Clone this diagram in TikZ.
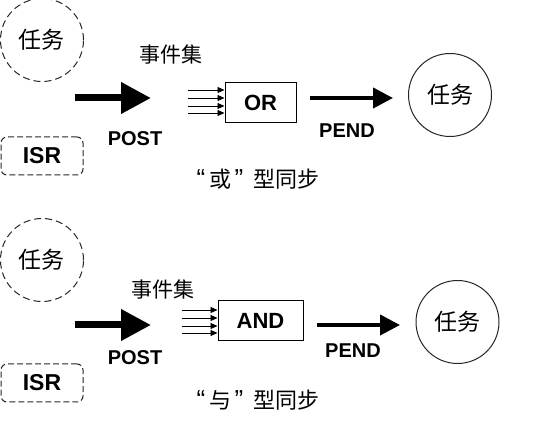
\documentclass[tikz,border=0pt]{standalone}
\usepackage{fontspec}
\setmainfont{Liberation Sans}
\newfontfamily\cjk{Noto Sans CJK SC}
\usetikzlibrary{arrows.meta,positioning}
\newcommand{\openq}{{\rmfamily\fontsize{26}{26}\selectfont“}}
\newcommand{\closeq}{{\rmfamily\fontsize{26}{26}\selectfont”}}
\tikzset{
  taskcirc/.style={circle,draw=black!85,line width=1pt,minimum size=83pt,
    inner sep=0pt,font=\cjk\fontsize{23}{26}\selectfont},
  dashcirc/.style={taskcirc,dash pattern=on 7pt off 4pt},
  isrbox/.style={rectangle,rounded corners=6pt,draw=black!85,line width=1pt,
    dash pattern=on 6pt off 3pt,minimum width=82pt,minimum height=38pt,
    font=\bfseries\fontsize{23}{26}\selectfont},
  flagbox/.style={rectangle,draw=black,line width=1pt,minimum height=40pt,
    font=\bfseries\fontsize{22}{25}\selectfont},
  lbl/.style={font=\bfseries\fontsize{20}{23}\selectfont},
  cjklbl/.style={font=\cjk\fontsize{21}{24}\selectfont},
  caplbl/.style={font=\cjk\fontsize{22}{26}\selectfont},
  postarrow/.style={-{Triangle[length=30pt,width=30pt]},line width=7pt},
  pendarrow/.style={-{Triangle[length=20pt,width=20pt]},line width=4pt},
  evarrow/.style={-{Triangle[length=7pt,width=6pt]},line width=0.9pt}
}

\begin{document}
\begin{tikzpicture}[x=1pt,y=-1pt]
  \useasboundingbox (0,0) rectangle (544,427);
  % "or" synchronisation
  \node[dashcirc] (src1) at (42,40) {任务};
  \node[isrbox] (isr1) at (42,156) {ISR};
  \coordinate (posta1) at (75,98);
  \coordinate (postb1) at (151,98);
  \draw[postarrow] (posta1) -- (postb1);
  \node[lbl] (post1) at (135,139) {POST};
  \node[cjklbl] (evset1) at (171,55) {事件集};
  \node[flagbox,minimum width=71pt] (orbox) at (260.5,103) {OR};
  \foreach \y [count=\i] in {90,98,106,113} {
    \coordinate (ev\i) at (188,\y);
    \draw[evarrow] (ev\i) -- (ev\i -| orbox.west);
  }
  \coordinate (penda1) at (310,98);
  \coordinate (pendb1) at (393,98);
  \draw[pendarrow] (penda1) -- (pendb1);
  \node[lbl] (pend1) at (347,131) {PEND};
  \node[taskcirc] (dst1) at (450,95) {任务};
  \node[caplbl] (cap1) at (258,179) {\openq\,或\,\closeq\hspace{10pt}型同步};
  % "and" synchronisation
  \node[dashcirc] (src2) at (42,260) {任务};
  \node[isrbox] (isr2) at (42,383) {ISR};
  \coordinate (posta2) at (75,325);
  \coordinate (postb2) at (151,325);
  \draw[postarrow] (posta2) -- (postb2);
  \node[lbl] (post2) at (135,358) {POST};
  \node[cjklbl] (evset2) at (163,290) {事件集};
  \node[flagbox,minimum width=85pt] (andbox) at (260.5,320.5) {AND};
  \foreach \y [count=\i] in {310,318,326,333} {
    \coordinate (ew\i) at (182,\y);
    \draw[evarrow] (ew\i) -- (ew\i -| andbox.west);
  }
  \coordinate (penda2) at (317,325);
  \coordinate (pendb2) at (400,325);
  \draw[pendarrow] (penda2) -- (pendb2);
  \node[lbl] (pend2) at (353,351) {PEND};
  \node[taskcirc] (dst2) at (457.5,322) {任务};
  \node[caplbl] (cap2) at (258,400) {\openq\,与\,\closeq\hspace{10pt}型同步};
\end{tikzpicture}
\end{document}
